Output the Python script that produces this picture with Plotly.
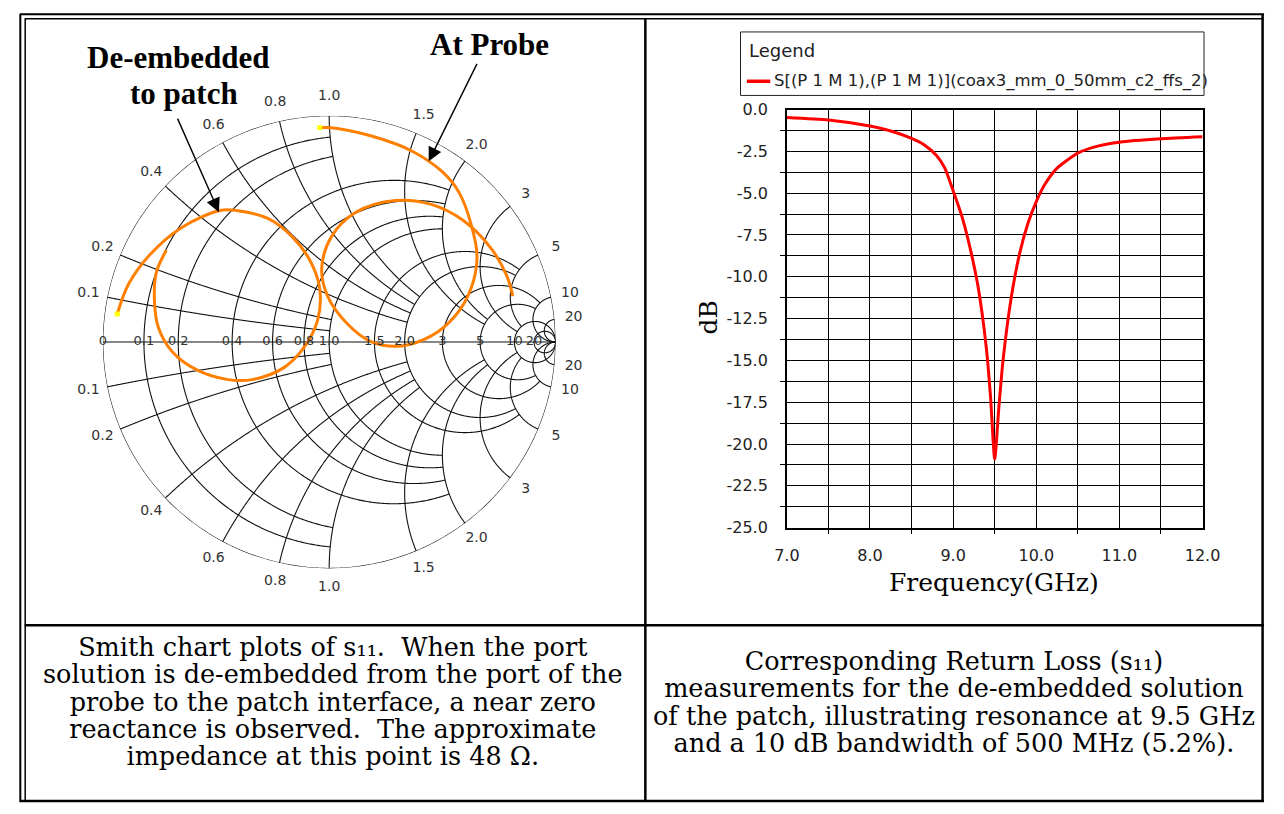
import numpy as np
import plotly.graph_objects as go

W, H = 1284, 814

# ---------------- data ----------------
# S11 (reflection coefficient) traces on the Smith chart
probe_s11_re = [-0.042, 0.011, 0.187, 0.363, 0.503, 0.574, 0.627, 0.653, 0.627, 0.556, 0.451,
                0.319, 0.187, 0.081, -0.007, -0.033, 0.011, 0.116, 0.292, 0.451, 0.591, 0.715,
                0.785, 0.811]
probe_s11_im = [0.947, 0.947, 0.910, 0.845, 0.749, 0.660, 0.520, 0.379, 0.238, 0.115, 0.027,
                -0.017, 0.001, 0.080, 0.203, 0.326, 0.467, 0.572, 0.625, 0.608, 0.538, 0.414,
                0.291, 0.203]
deemb_s11_re = [-0.936, -0.886, -0.798, -0.658, -0.482, -0.411, -0.271, -0.165, -0.086, -0.042,
                -0.051, -0.112, -0.200, -0.341, -0.447, -0.587, -0.693, -0.754, -0.772, -0.763,
                -0.719]
deemb_s11_im = [0.124, 0.256, 0.379, 0.502, 0.581, 0.581, 0.546, 0.467, 0.362, 0.238,
                0.097, -0.025, -0.113, -0.166, -0.166, -0.122, -0.043, 0.063, 0.185, 0.309,
                0.406]

# Return loss curve
freq_ghz = [7.0, 7.5, 8.0, 8.25, 8.5, 8.65, 8.8, 8.9, 9.0, 9.1, 9.2, 9.3, 9.4, 9.45, 9.5,
            9.55, 9.6, 9.7, 9.8, 9.9, 10.0, 10.1, 10.25, 10.5, 10.75, 11.0, 11.5, 12.0]
s11_db = [-0.47, -0.62, -0.98, -1.28, -1.72, -2.1, -2.75, -3.5, -4.85, -6.3, -8.2, -10.6,
          -14.3, -17.2, -20.9, -17.8, -15.0, -11.2, -8.6, -6.8, -5.5, -4.5, -3.5, -2.6,
          -2.17, -1.95, -1.75, -1.63]
series_name = "S[(P 1 M 1),(P 1 M 1)](coax3_mm_0_50mm_c2_ffs_2)"
legend_title = "Legend"

# Smith grid values and labels
grid_vals = [0.1, 0.2, 0.4, 0.6, 0.8, 1.0, 1.5, 2.0, 3, 5, 10, 20]
grid_limit = [1, 1, 2, 2, 2, 2, 5, 5, 10, 10, None, None]
grid_text = ["0.1", "0.2", "0.4", "0.6", "0.8", "1.0", "1.5", "2.0", "3", "5", "10", "20"]

x_ticks = [7.0, 8.0, 9.0, 10.0, 11.0, 12.0]
x_minor = [7.5, 8.5, 9.5, 10.5, 11.5]
y_ticks = [0.0, -2.5, -5.0, -7.5, -10.0, -12.5, -15.0, -17.5, -20.0, -22.5, -25.0]
y_minor = [-1.25, -3.75, -6.25, -8.75, -11.25, -13.75, -16.25, -18.75, -21.25, -23.75]

caption_left = ["Smith chart plots of s\u2081\u2081.\u00a0 When the port",
                "solution is de-embedded from the port of the",
                "probe to the patch interface, a near zero",
                "reactance is observed.\u00a0 The approximate",
                "impedance at this point is 48 \u03a9."]
caption_right = ["Corresponding Return Loss (s\u2081\u2081)",
                 "measurements for the de-embedded solution",
                 "of the patch, illustrating resonance at 9.5 GHz",
                 "and a 10 dB bandwidth of 500 MHz (5.2%)."]


# ---------------- helpers ----------------
def gam(z):
    return (z - 1) / (z + 1)


def zof(g):
    return (1 + g) / (1 - g)


def px(x):
    return x / W


def py(y):
    return 1 - y / H


BIG = 1e4
seg_re, seg_im = [], []


def add(zs):
    seg_re.extend(zs.real.tolist() + [None])
    seg_im.extend(zs.imag.tolist() + [None])


# outer circle and real axis
th = np.linspace(0.003, 2 * np.pi - 0.003, 900)
add(zof(np.exp(1j * th)))
add(zof(np.linspace(-1, 0.9995, 400) + 0j))
# constant resistance circles (truncated)
for r, lim in zip(grid_vals, grid_limit):
    c, rad = r / (1 + r), 1 / (1 + r)
    L = BIG if lim is None else lim
    p1 = np.angle(gam(r + 1j * L) - c)
    ph = np.linspace(p1, 2 * np.pi - p1, 500)
    add(zof(c + rad * np.exp(1j * ph)))
# constant reactance arcs (truncated)
for x, lim in zip(grid_vals, grid_limit):
    L = BIG if lim is None else lim
    for s in (1, -1):
        xx = s * x
        cen, rad = 1 + 1j / xx, 1 / abs(xx)
        a0 = np.angle(gam(1j * xx) - cen)
        a1 = np.angle(gam(L + 1j * xx) - cen)
        d = (a1 - a0) % (2 * np.pi)
        if d > np.pi:
            d -= 2 * np.pi
        ps = a0 + np.linspace(0, d, 400)
        add(zof(cen + rad * np.exp(1j * ps)))

fig = go.Figure()
fig.add_trace(go.Scattersmith(real=seg_re, imag=seg_im, mode="lines",
                              line=dict(color="#111111", width=1.1), hoverinfo="skip",
                              showlegend=False, connectgaps=False))

orange = "#ff8000"
for re_, im_ in ((deemb_s11_re, deemb_s11_im), (probe_s11_re, probe_s11_im)):
    z = zof(np.array(re_) + 1j * np.array(im_))
    fig.add_trace(go.Scattersmith(real=z.real, imag=z.imag, mode="lines",
                                  line=dict(color=orange, width=3, shape="spline"),
                                  showlegend=False, hoverinfo="skip"))
    fig.add_trace(go.Scattersmith(real=[z.real[0]], imag=[z.imag[0]], mode="markers",
                                  marker=dict(color="#ffff00", size=5, symbol="square"),
                                  showlegend=False, hoverinfo="skip"))

# axis labels along real axis
ax_vals = [0.0] + grid_vals
ax_text = ["0"] + grid_text
fig.add_trace(go.Scattersmith(real=ax_vals, imag=[0] * len(ax_vals), mode="text",
                              text=ax_text, textposition="middle center",
                              textfont=dict(family="DejaVu Sans", size=13, color="#333"),
                              cliponaxis=False, showlegend=False, hoverinfo="skip"))
# labels around the circle
lab_re, lab_im, lab_tx = [], [], []
for x, t in zip(grid_vals, grid_text):
    for s in (1, -1):
        zl = zof(1.085 * gam(1j * s * x))
        lab_re.append(zl.real)
        lab_im.append(zl.imag)
        lab_tx.append(t)
fig.add_trace(go.Scattersmith(real=lab_re, imag=lab_im, mode="text", text=lab_tx,
                              textposition="middle center",
                              textfont=dict(family="DejaVu Sans", size=14, color="#333"),
                              cliponaxis=False, showlegend=False, hoverinfo="skip"))

# return loss curve
fig.add_trace(go.Scatter(x=freq_ghz, y=s11_db, mode="lines", name=series_name,
                         line=dict(color="#ff0000", width=3, shape="spline", smoothing=0.6),
                         hoverinfo="skip", showlegend=False))

axfont = dict(family="DejaVu Sans", size=16, color="#222")
fig.update_layout(
    width=W, height=H, margin=dict(l=0, r=0, t=0, b=0),
    paper_bgcolor="white", plot_bgcolor="white", showlegend=False,
    smith=dict(domain=dict(x=[px(92), px(556)], y=[py(573), py(109)]),
               bgcolor="rgba(0,0,0,0)",
               realaxis=dict(showgrid=False, showticklabels=False, showline=False, ticks=""),
               imaginaryaxis=dict(showgrid=False, showticklabels=False, showline=False, ticks="")),
    xaxis=dict(domain=[px(793), px(1219)], range=[7, 12], tickvals=x_ticks,
               ticktext=[f"{v:.1f}" for v in x_ticks], ticks="", showgrid=True,
               gridcolor="black", gridwidth=1, showline=True, mirror=True, linecolor="black",
               linewidth=1.5, zeroline=False, tickfont=axfont, ticklabelstandoff=12,
               minor=dict(tickvals=x_minor, showgrid=True, gridcolor="black", gridwidth=1,
                          ticks="outside", ticklen=5, tickcolor="black")),
    yaxis=dict(domain=[py(531), py(103)], range=[-25, 0], tickvals=y_ticks,
               ticktext=[f"{v:.1f}" for v in y_ticks], ticks="", showgrid=True,
               gridcolor="black", gridwidth=1, showline=True, mirror=True, linecolor="black",
               linewidth=1.5, zeroline=False, tickfont=axfont, ticklabelstandoff=14,
               minor=dict(tickvals=y_minor, showgrid=True, gridcolor="black", gridwidth=1,
                          ticks="outside", ticklen=5, tickcolor="black")),
)

# table borders + legend box
shapes = []


def hline(y, x0, x1, w, color="black"):
    shapes.append(dict(type="line", xref="paper", yref="paper", x0=px(x0), x1=px(x1),
                       y0=py(y), y1=py(y), line=dict(color=color, width=w)))


def vline(x, y0, y1, w):
    shapes.append(dict(type="line", xref="paper", yref="paper", x0=px(x), x1=px(x),
                       y0=py(y0), y1=py(y1), line=dict(color="black", width=w)))


hline(5.5, 7, 1282, 2)
vline(7.5, 5, 812, 2)
hline(10, 12, 1282, 1.5)
vline(12.5, 10, 812, 1.5)
vline(1280.5, 5, 812, 2.5)
hline(811, 7, 1282, 2.5)
vline(648, 10, 812, 2.5)
hline(631, 12, 1282, 2.5)
# legend frame and sample line
shapes.append(dict(type="rect", xref="paper", yref="paper", x0=px(745.5), x1=px(1220.5),
                   y0=py(88.5), y1=py(23.5), line=dict(color="#222", width=1),
                   fillcolor="white"))
hline(74, 752, 776, 3.5, color="#ff0000")
fig.update_layout(shapes=shapes)

ann = []
serif = "DejaVu Serif"
legfont = dict(family="DejaVu Sans", size=16.5, color="#222")
ann.append(dict(text=legend_title, x=px(752), y=py(42), xanchor="left",
                font=dict(family="DejaVu Sans", size=18, color="#222")))
ann.append(dict(text=series_name, x=px(778), y=py(74), xanchor="left", font=legfont))
ann.append(dict(text="dB", x=px(713), y=py(316), textangle=-90,
                font=dict(family=serif, size=25, color="black")))
ann.append(dict(text="Frequency(GHz)", x=px(1005), y=py(587),
                font=dict(family=serif, size=25, color="black")))
bold = dict(family="Liberation Serif", size=31, color="black")
ann.append(dict(text="<b>At Probe</b>", x=px(488), y=py(36), font=bold))
ann.append(dict(text="<b>De-embedded</b>", x=px(170), y=py(50), font=bold))
ann.append(dict(text="<b>to patch</b>", x=px(175), y=py(87), font=bold))
ann.append(dict(text="", x=px(211), y=py(208), ax=169 - 211, ay=113 - 208, showarrow=True,
                arrowhead=2, arrowsize=2.0, arrowwidth=1.4, arrowcolor="black"))
ann.append(dict(text="", x=px(426), y=py(156), ax=475 - 426, ay=57 - 156, showarrow=True,
                arrowhead=2, arrowsize=2.0, arrowwidth=1.4, arrowcolor="black"))


def block(lines):
    # line pitch comes from the 21px base font (1.3 em = 27.3px); glyphs drawn at 25.5px
    return "<br>".join(f"<span style='font-size:25.5px'>{t}</span>" for t in lines)


cap_font = dict(family=serif, size=21, color="black")
ann.append(dict(text=block(caption_left), x=px(328), y=py(709.5), font=cap_font))
ann.append(dict(text=block(caption_right), x=px(964), y=py(710), font=cap_font))
for a in ann:
    a.setdefault("xref", "paper")
    a.setdefault("yref", "paper")
    a.setdefault("showarrow", False)
    a.setdefault("xanchor", "center")
    a.setdefault("yanchor", "middle")
fig.update_layout(annotations=ann)

fig.write_html("out.html", config={"displayModeBar": False},
               post_script="document.body.style.margin='0';document.body.style.overflow='hidden';")
